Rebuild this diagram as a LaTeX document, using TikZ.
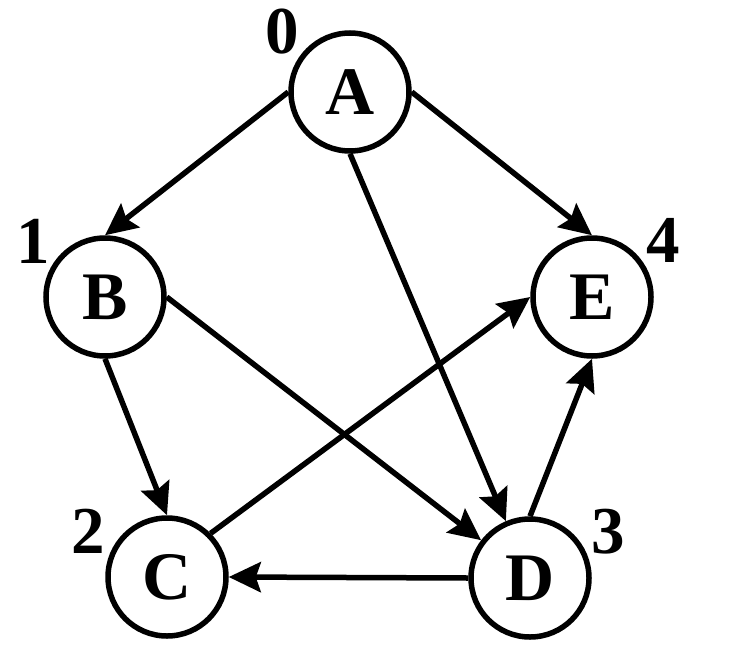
\documentclass[tikz,border=0pt]{standalone}
\usepackage{fontspec}
\setmainfont{Liberation Serif}
\usetikzlibrary{arrows.meta}
\begin{document}
\begin{tikzpicture}[x=1pt,y=-1pt,
  vtx/.style={circle,draw,line width=5.5pt,inner sep=0pt,minimum size=118pt,
    font=\fontsize{68}{68}\selectfont\bfseries},
  lbl/.style={inner sep=0pt,font=\fontsize{67}{67}\selectfont\bfseries},
  edge/.style={line width=5.5pt,-{Stealth[length=32pt,width=30pt,inset=5pt]}}]
\useasboundingbox (0,0) rectangle (741,645);
\fill[white] (0,0) rectangle (741,645);
\node[vtx] (A) at (350,92) {A};
\node[vtx] (B) at (105,297) {B};
\node[vtx] (E) at (592,297) {E};
\node[vtx] (C) at (167,577) {C};
\node[vtx] (D) at (530,578) {D};
\node[lbl] (l0) at (282,32) {0};
\node[lbl] (l1) at (33,241) {1};
\node[lbl] (l4) at (663,240) {4};
\node[lbl] (l2) at (88,531) {2};
\node[lbl] (l3) at (608,532) {3};
\draw[edge] (A.west) -- (B.north);
\draw[edge] (A.east) -- (E.north);
\draw[edge] (A.south) -- (D);
\draw[edge] (B.east) -- (D);
\draw[edge] (B.south) -- (C.north);
\draw[edge] (C.north east) -- (E.west);
\draw[edge] (D.west) -- (C.east);
\draw[edge] (D.north) -- (E.south);
\end{tikzpicture}
\end{document}
